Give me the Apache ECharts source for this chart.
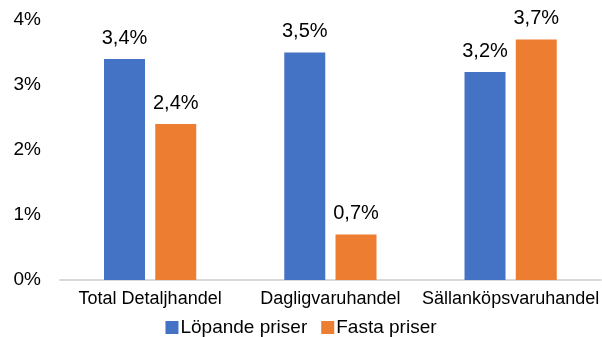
<!DOCTYPE html>
<html>
<head>
<meta charset="utf-8">
<script src="https://cdn.jsdelivr.net/npm/echarts@6/dist/echarts.min.js"></script>
<style>
  html, body { margin: 0; padding: 0; background: #fff; }
  #chart { width: 602px; height: 337px; }
</style>
</head>
<body>
<div id="chart"></div>
<script>
// Försäljningsutveckling per branschgrupp (procent)
const categories = ['Total Detaljhandel', 'Dagligvaruhandel', 'Sällanköpsvaruhandel'];
const lopandePriser = [3.4, 3.5, 3.2];
const fastaPriser = [2.4, 0.7, 3.7];
const yTicks = [0, 1, 2, 3, 4];

const FONT = '"Liberation Sans", Arial, sans-serif';
const pct = v => String(v).replace('.', ',') + '%';

const chart = echarts.init(document.getElementById('chart'), null, { renderer: 'canvas' });

const barLabel = {
  show: true,
  position: 'top',
  distance: 11,
  color: '#000',
  fontFamily: FONT,
  fontSize: 20,
  formatter: p => pct(p.value.toFixed(1))
};

chart.setOption({
  animation: false,
  backgroundColor: '#fff',
  textStyle: { fontFamily: FONT },
  grid: { left: 60, right: 0, top: 20, bottom: 57, containLabel: false },
  legend: {
    top: 313,
    left: 'center',
    itemWidth: 13,
    itemHeight: 13,
    itemGap: 14,
    icon: 'rect',
    textStyle: { fontFamily: FONT, fontSize: 19, color: '#000', padding: [0, 0, 0, -3] },
    data: ['Löpande priser', 'Fasta priser']
  },
  xAxis: {
    type: 'category',
    data: categories,
    axisLine: { lineStyle: { color: '#d9d9d9', width: 2 } },
    axisTick: { show: false },
    axisLabel: {
      color: '#000', fontFamily: FONT, fontSize: 18, margin: 10,
      interval: 0, hideOverlap: false
    }
  },
  yAxis: {
    type: 'value',
    min: yTicks[0],
    max: yTicks[yTicks.length - 1],
    interval: 1,
    splitLine: { show: false },
    axisLine: { show: false },
    axisTick: { show: false },
    axisLabel: { color: '#000', fontFamily: FONT, fontSize: 19, margin: 19, formatter: v => v + '%' }
  },
  series: [
    {
      name: 'Löpande priser',
      type: 'bar',
      data: lopandePriser,
      barWidth: 41,
      barGap: '25%',
      itemStyle: { color: '#4472C4' },
      label: barLabel
    },
    {
      name: 'Fasta priser',
      type: 'bar',
      data: fastaPriser,
      barWidth: 41,
      itemStyle: { color: '#ED7D31' },
      label: barLabel
    }
  ]
});
</script>
</body>
</html>
